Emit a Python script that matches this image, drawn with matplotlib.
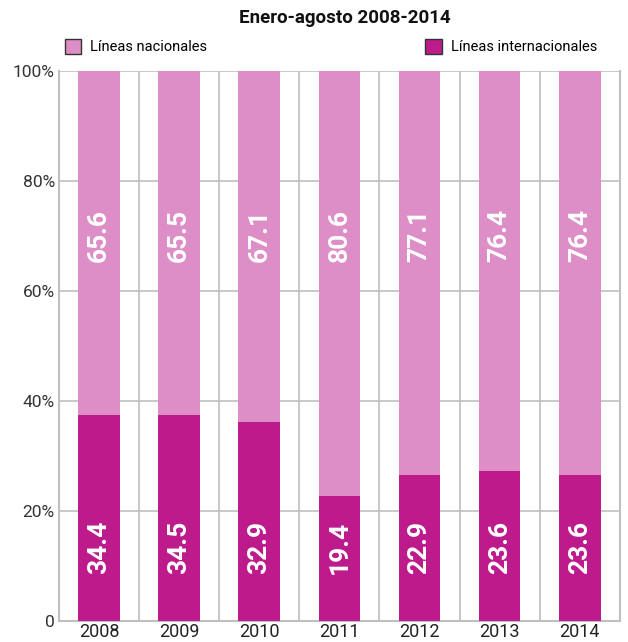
import matplotlib.pyplot as plt
import matplotlib.patches as mpatches
import numpy as np

plt.rcParams["font.family"] = ["Roboto", "DejaVu Sans"]

years = ["2008", "2009", "2010", "2011", "2012", "2013", "2014"]
# printed labels
nacional_lbl = ["65.6", "65.5", "67.1", "80.6", "77.1", "76.4", "76.4"]
internacional_lbl = ["34.4", "34.5", "32.9", "19.4", "22.9", "23.6", "23.6"]
# bar heights as drawn in the original (share of internacional, %)
internacional_bar = [37.4, 37.4, 36.1, 22.7, 26.5, 27.3, 26.5]

c_nac = "#de8ec6"
c_int = "#bd1a8c"
grid_c = "#bfbfbf"

fig = plt.figure(figsize=(6.28, 6.42), dpi=100)
ax = fig.add_axes([0.094, 0.0332, 0.893, 0.8567])

x = np.arange(len(years))
intl = np.array(internacional_bar)
nac = 100 - intl
ax.bar(x, intl, width=0.52, color=c_int, zorder=3)
ax.bar(x, nac, width=0.52, bottom=intl, color=c_nac, zorder=3)

lab_font = dict(color="white", fontsize=19, fontweight="bold", rotation=90,
                ha="center", va="center", zorder=4)
for i in range(len(years)):
    ax.text(x[i], 13.3, internacional_lbl[i], **lab_font)
    ax.text(x[i], 70, nacional_lbl[i], **lab_font)

ax.set_xlim(-0.5, len(years) - 0.5)
ax.set_ylim(0, 100)
ax.set_yticks([0, 20, 40, 60, 80, 100])
ax.set_yticklabels(["0", "20%", "40%", "60%", "80%", "100%"])
ax.set_xticks(x)
ax.set_xticklabels(years)
ax.set_xticks(x[:-1] + 0.5, minor=True)
ax.tick_params(axis="y", length=0, pad=3, labelsize=12.5, labelcolor="#333333")
ax.tick_params(axis="x", which="both", length=0, pad=2, labelsize=13, labelcolor="#222222")
ax.grid(axis="y", color=grid_c, linewidth=1.2, zorder=0)
ax.grid(axis="x", which="minor", color=grid_c, linewidth=1.2, zorder=0)
for s in ["left", "right", "bottom"]:
    ax.spines[s].set_color(grid_c)
    ax.spines[s].set_linewidth(1.5)
ax.spines["top"].set_visible(False)

fig.text(0.549, 0.972, "Enero-agosto 2008-2014", ha="center", va="center",
         fontsize=13.5, fontweight="bold", color="#111111")

h1 = mpatches.Patch(facecolor=c_nac, edgecolor="#333333", linewidth=1)
h2 = mpatches.Patch(facecolor=c_int, edgecolor="#333333", linewidth=1)
fig.legend([h1], ["Líneas nacionales"], loc="center left", bbox_to_anchor=(0.103, 0.927),
           frameon=False, fontsize=10.5, handlelength=1.15, handleheight=1.15, handletextpad=0.6,
           borderpad=0, borderaxespad=0)
fig.legend([h2], ["Líneas internacionales"], loc="center left", bbox_to_anchor=(0.677, 0.927),
           frameon=False, fontsize=10.5, handlelength=1.15, handleheight=1.15, handletextpad=0.6,
           borderpad=0, borderaxespad=0)

fig.savefig("out.png", dpi=100)
